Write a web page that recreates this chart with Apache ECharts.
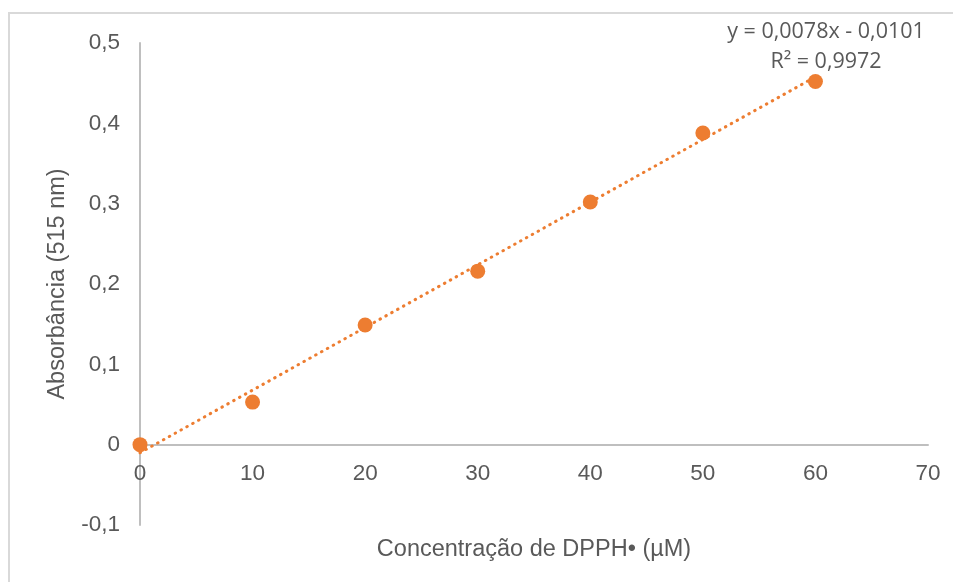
<!DOCTYPE html>
<html>
<head>
<meta charset="utf-8">
<script src="https://cdn.jsdelivr.net/npm/echarts@6/dist/echarts.min.js"></script>
<style>
  html, body { margin: 0; padding: 0; background: #fff; }
  #chart { width: 953px; height: 582px; }
</style>
</head>
<body>
<div id="chart"></div>
<script>
// pontos medidos
const concentracoes = [0, 10, 20, 30, 40, 50, 60];
const absorbancias = [0, 0.053, 0.149, 0.216, 0.302, 0.388, 0.452];
// linha de tendência (Excel)
const slope = 0.0078;
const intercept = -0.0101;
const trendX = [0, 60];
const equationLines = ['y = 0,0078x - 0,0101', 'R² = 0,9972'];

const grey = '#595959';
const orange = '#ED7D31';
const axisFont = '"Liberation Sans", Arial, sans-serif';
const eqFont = '"Open Sans", sans-serif';
const fmt = v => String(Math.round(v * 10) / 10).replace('.', ',');

const chart = echarts.init(document.getElementById('chart'));

const option = {
  animation: false,
  grid: { left: 140, right: 25, top: 43, bottom: 57, outerBoundsMode: 'none', containLabel: false },
  graphic: [
    {
      type: 'rect',
      shape: { x: 9, y: 13, width: 980, height: 620 },
      style: { fill: 'none', stroke: '#d9d9d9', lineWidth: 2 },
      silent: true
    },
    {
      type: 'text',
      x: 826, y: 17,
      style: {
        text: equationLines.join('\n'),
        align: 'center',
        fill: grey,
        font: '21.5px ' + eqFont,
        lineHeight: 30
      }
    }
  ],
  xAxis: {
    type: 'value',
    min: 0, max: 70, interval: 10,
    offset: -80,
    name: 'Concentração de DPPH• (µM)',
    nameLocation: 'middle',
    nameGap: 93,
    nameTextStyle: { color: grey, fontSize: 23.5, fontFamily: axisFont },
    axisLine: { onZero: false, lineStyle: { color: '#bfbfbf', width: 2 } },
    axisTick: { show: false },
    splitLine: { show: false },
    axisLabel: { color: grey, fontSize: 22.5, fontFamily: axisFont, margin: 17, formatter: fmt }
  },
  yAxis: {
    type: 'value',
    min: -0.1, max: 0.5, interval: 0.1,
    name: 'Absorbância (515 nm)',
    nameLocation: 'middle',
    nameGap: 70,
    nameRotate: 90,
    nameTextStyle: { color: grey, fontSize: 23.5, fontFamily: axisFont },
    axisLine: { show: true, onZero: false, lineStyle: { color: '#bfbfbf', width: 2 } },
    axisTick: { show: false },
    splitLine: { show: false },
    axisLabel: { color: grey, fontSize: 22.5, fontFamily: axisFont, margin: 20, formatter: fmt }
  },
  series: [
    {
      type: 'line',
      data: trendX.map(x => [x, slope * x + intercept]),
      symbol: 'none',
      lineStyle: { color: orange, width: 3, type: [0.5, 6.2], cap: 'round' },
      silent: true,
      z: 2
    },
    {
      type: 'scatter',
      data: concentracoes.map((x, i) => [x, absorbancias[i]]),
      symbol: 'circle',
      symbolSize: 15,
      itemStyle: { color: orange, opacity: 1 },
      z: 3
    }
  ]
};

chart.setOption(option);
</script>
</body>
</html>
